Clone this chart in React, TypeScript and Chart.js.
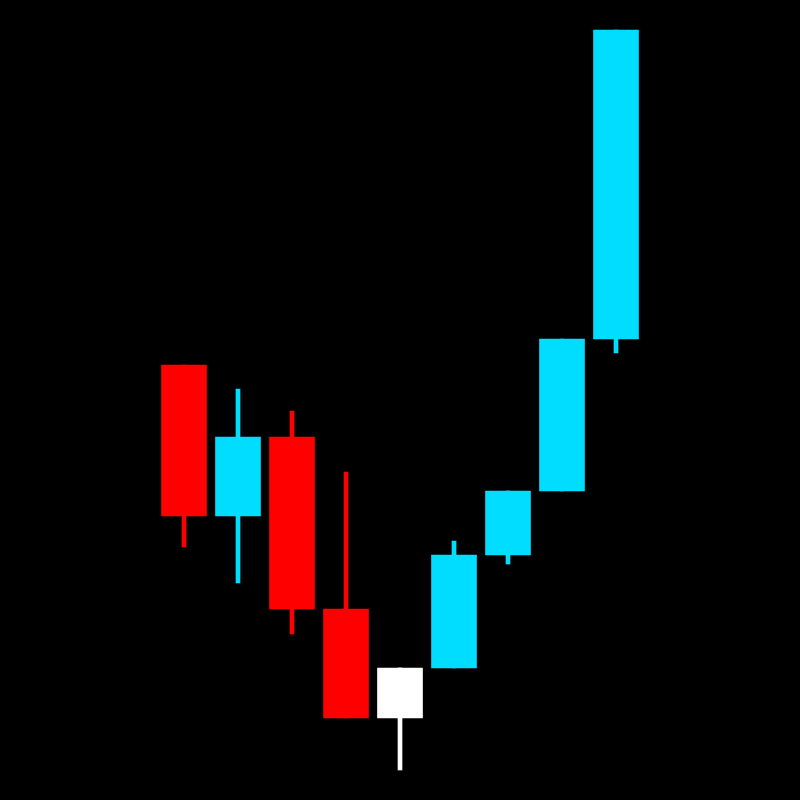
import { useEffect, useRef } from "react";
import { Chart, registerables, type ChartConfiguration } from "chart.js";

Chart.register(...registerables);

// Nine sessions, price (no axis shown, arbitrary units)
const labels = ["1", "2", "3", "4", "5", "6", "7", "8", "9"];
const opens = [43.5, 28.4, 36.3, 19.1, 8.2, 13.2, 24.5, 30.9, 46.1];
const closes = [28.4, 36.3, 19.1, 8.2, 13.2, 24.5, 30.9, 46.1, 77.0];
const highs = [43.5, 41.1, 38.9, 32.8, 13.2, 25.9, 30.9, 46.1, 77.0];
const lows = [25.3, 21.7, 16.6, 8.2, 3.0, 13.2, 23.6, 30.9, 44.7];
const candleColors = [
  "#ff0000",
  "#00ddff",
  "#ff0000",
  "#ff0000",
  "#ffffff",
  "#00ddff",
  "#00ddff",
  "#00ddff",
  "#00ddff",
];

export default function App() {
  const canvasRef = useRef<HTMLCanvasElement>(null);
  const chartRef = useRef<Chart | null>(null);

  useEffect(() => {
    document.body.style.margin = "0";
    document.body.style.background = "#000";
    if (!canvasRef.current) return;

    const bodies = opens.map((o, i) => [o, closes[i]] as [number, number]);
    const wicks = lows.map((l, i) => [l, highs[i]] as [number, number]);

    const cfg: ChartConfiguration<"bar", [number, number][], string> = {
      type: "bar",
      data: {
        labels,
        datasets: [
          {
            data: bodies,
            backgroundColor: candleColors,
            borderWidth: 0,
            barThickness: 45,
            grouped: false,
            order: 0,
          },
          {
            data: wicks,
            backgroundColor: candleColors,
            borderWidth: 0,
            barThickness: 4,
            grouped: false,
            order: 1,
          },
        ],
      },
      options: {
        animation: false,
        responsive: true,
        maintainAspectRatio: false,
        layout: { padding: { left: 157, right: 157, top: 0, bottom: 0 } },
        plugins: {
          legend: { display: false },
          tooltip: { enabled: false },
        },
        scales: {
          x: { display: false, offset: true },
          y: { display: false, min: 0, max: 80 },
        },
      },
    };
    chartRef.current = new Chart(canvasRef.current, cfg);
    return () => {
      chartRef.current?.destroy();
      chartRef.current = null;
    };
  }, []);

  return (
    <div
      style={{
        position: "relative",
        width: 800,
        height: 800,
        background: "#000",
      }}
    >
      <canvas ref={canvasRef} />
    </div>
  );
}
